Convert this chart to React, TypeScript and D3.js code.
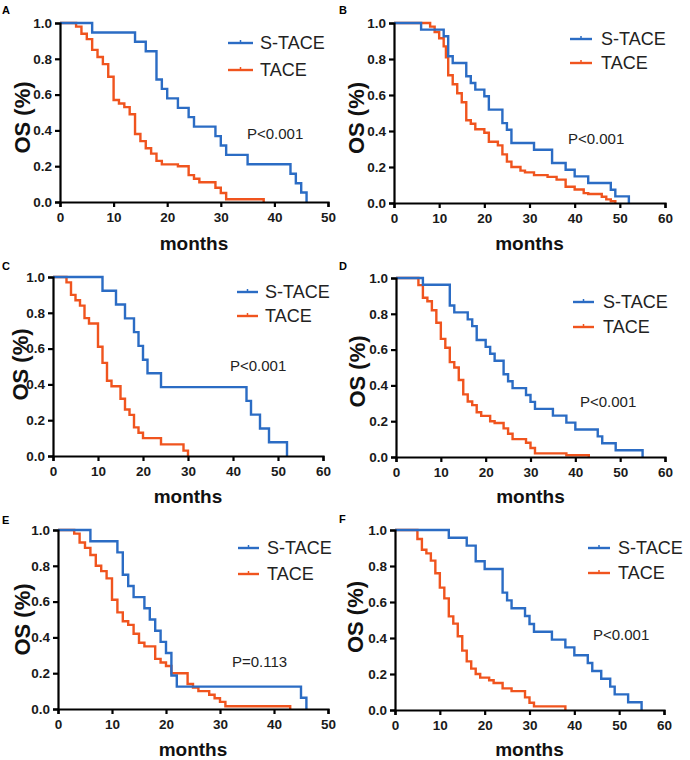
import React, { useEffect, useRef } from "react";
import * as d3 from "d3";

// ---- Data: Kaplan-Meier steps [months, survival] ----
const A_STACE = [[0,1],[6,0.947],[14,0.895],[16,0.842],[18,0.684],[19,0.632],[20,0.579],[22,0.526],[24,0.474],[25,0.421],[29,0.368],[30,0.316],[31,0.263],[35,0.211],[43,0.158],[44,0.105],[45,0.053],[46,0]];
const A_TACE = [[0,1],[3,0.98],[4,0.94],[5,0.91],[6,0.85],[7,0.81],[8,0.77],[9,0.70],[10,0.57],[11,0.55],[12,0.53],[13,0.49],[14,0.38],[15,0.34],[16,0.30],[17,0.27],[18,0.23],[19,0.21],[22,0.20],[24,0.15],[25,0.13],[26,0.11],[29,0.08],[30,0.05],[31,0.015],[38,0]];
const B_STACE = [[0,1],[6,0.963],[11,0.926],[12,0.815],[13,0.778],[16,0.704],[17,0.667],[18,0.630],[20,0.593],[21,0.519],[24,0.444],[25,0.407],[26,0.333],[31,0.296],[35,0.222],[38,0.185],[40,0.148],[43,0.111],[48,0.074],[49,0.037],[52,0]];
const B_TACE = [[0,1],[8,0.98],[9,0.95],[10,0.915],[11,0.87],[11.5,0.81],[12,0.71],[13,0.66],[14,0.61],[15,0.56],[16,0.46],[17,0.44],[18,0.41],[20,0.39],[21,0.34],[23,0.32],[24,0.27],[25,0.23],[26,0.20],[28,0.18],[29,0.17],[31,0.155],[34,0.145],[36,0.13],[38,0.09],[40,0.075],[42,0.055],[43,0.05],[46,0.035],[47,0.02],[48,0.01],[49,0]];
const C_STACE = [[0,1],[11,0.923],[14,0.846],[16,0.769],[18,0.692],[19,0.615],[20,0.538],[21,0.462],[24,0.385],[43,0.308],[44,0.231],[46,0.154],[48,0.077],[52,0]];
const C_TACE = [[0,1],[3,0.97],[4,0.90],[5,0.87],[6,0.84],[7,0.77],[8,0.74],[10,0.61],[11,0.52],[12,0.42],[13,0.39],[15,0.32],[16,0.26],[17,0.23],[18,0.16],[19,0.13],[20,0.10],[24,0.065],[29,0.03],[30,0]];
const D_STACE = [[0,1],[6,0.962],[12,0.846],[13,0.808],[16,0.769],[17,0.731],[18,0.654],[20,0.615],[21,0.577],[22,0.538],[24,0.462],[25,0.423],[26,0.385],[29,0.346],[30,0.308],[31,0.269],[35,0.231],[38,0.192],[40,0.154],[45,0.115],[46,0.077],[49,0.038],[55,0]];
const D_TACE = [[0,1],[5,0.96],[6,0.89],[7,0.87],[8,0.82],[9,0.75],[10,0.66],[11,0.61],[12,0.53],[13,0.50],[14,0.43],[15,0.35],[16,0.31],[17,0.29],[18,0.25],[19,0.23],[21,0.20],[22,0.19],[24,0.16],[25,0.13],[26,0.10],[29,0.08],[30,0.05],[31,0.02],[38,0.01],[43,0]];
const E_STACE = [[0,1],[6,0.9375],[11,0.875],[12,0.75],[13,0.6875],[14,0.625],[16,0.5625],[17,0.5],[18,0.4375],[19,0.375],[20,0.3125],[21,0.1875],[22,0.125],[45,0.0625],[46,0]];
const E_TACE = [[0,1],[3,0.98],[4,0.93],[5,0.90],[6,0.86],[7,0.80],[8,0.77],[9,0.73],[10,0.61],[11,0.54],[12,0.49],[13,0.47],[14,0.42],[15,0.37],[16,0.35],[18,0.28],[19,0.26],[20,0.24],[21,0.20],[24,0.14],[25,0.12],[26,0.10],[28,0.08],[29,0.06],[30,0.04],[31,0.015],[43,0]];
const F_STACE = [[0,1],[12,0.957],[16,0.913],[18,0.826],[20,0.783],[24,0.652],[25,0.609],[26,0.565],[29,0.522],[30,0.478],[31,0.435],[35,0.391],[38,0.348],[40,0.304],[43,0.261],[44,0.217],[46,0.174],[48,0.130],[49,0.087],[52,0.043],[55,0]];
const F_TACE = [[0,1],[5,0.95],[6,0.89],[7,0.87],[8,0.83],[9,0.76],[10,0.68],[11,0.62],[12,0.52],[13,0.48],[14,0.41],[15,0.33],[16,0.27],[17,0.23],[18,0.20],[19,0.18],[21,0.165],[22,0.15],[24,0.12],[26,0.105],[29,0.07],[30,0.04],[31,0.02],[38,0]];

const PANEL_LABELS = ["A", "B", "C", "D", "E", "F"];
const P_TEXTS = ["P<0.001", "P<0.001", "P<0.001", "P<0.001", "P=0.113", "P<0.001"];
const X_MAXES = [50, 60, 60, 60, 50, 60];
const SERIES_NAMES = ["S-TACE", "TACE"];
const Y_TICKS = [0, 0.2, 0.4, 0.6, 0.8, 1.0];
const X_LABEL = "months";
const Y_LABEL = "OS (%)";

const BLUE = "#2b6cc4";
const ORANGE = "#f0541e";
const FONT = "'Liberation Sans', Arial, Helvetica, sans-serif";

// layout per panel (positions only)
const LAYOUT = [
  { x0: 60, x1: 328, yTop: 23, yBot: 202, letter: [2, 14], leg: [228, 253, 43, 70, 260], p: [247, 133], os: [22, 5], mY: 250 },
  { x0: 394, x1: 665, yTop: 23, yBot: 203, letter: [339, 14], leg: [570, 592, 39, 63, 601], p: [568, 138], os: [356, 5], mY: 250 },
  { x0: 53, x1: 323, yTop: 277, yBot: 456, letter: [2, 270], leg: [237, 258, 292, 316, 265], p: [230, 365], os: [20, -2], mY: 503 },
  { x0: 396, x1: 665, yTop: 278, yBot: 457, letter: [339, 270], leg: [573, 594, 302, 327, 603], p: [580, 401], os: [357, 4], mY: 503 },
  { x0: 58, x1: 328, yTop: 530, yBot: 709, letter: [2, 524], leg: [238, 259, 548, 574, 267], p: [232, 661], os: [22, 0], mY: 756 },
  { x0: 395, x1: 664, yTop: 530, yBot: 710, letter: [339, 523], leg: [588, 610, 548, 573, 618], p: [593, 634], os: [355, -3], mY: 756 },
];

const SERIES = [
  [A_STACE, A_TACE],
  [B_STACE, B_TACE],
  [C_STACE, C_TACE],
  [D_STACE, D_TACE],
  [E_STACE, E_TACE],
  [F_STACE, F_TACE],
];

export default function App() {
  const ref = useRef<SVGSVGElement>(null);

  useEffect(() => {
    const svg = d3.select(ref.current);
    svg.selectAll("*").remove();

    LAYOUT.forEach((L, i) => {
      const g = svg.append("g");
      const x = d3.scaleLinear().domain([0, X_MAXES[i]]).range([L.x0, L.x1]);
      const y = d3.scaleLinear().domain([0, 1]).range([L.yBot, L.yTop]);

      const line = d3
        .line<number[]>()
        .x((d) => x(d[0]))
        .y((d) => y(d[1]))
        .curve(d3.curveStepAfter);

      const [st, ta] = SERIES[i];
      g.append("path").attr("d", line(ta as any)).attr("fill", "none").attr("stroke", ORANGE).attr("stroke-width", 2.4);
      g.append("path").attr("d", line(st as any)).attr("fill", "none").attr("stroke", BLUE).attr("stroke-width", 2.4);

      const xAxis = d3.axisBottom(x).tickValues(d3.range(0, X_MAXES[i] + 1, 10)).tickSize(5).tickPadding(5).tickFormat(d3.format("d") as any);
      const yAxis = d3.axisLeft(y).tickValues(Y_TICKS).tickSize(5).tickPadding(3).tickFormat(d3.format(".1f") as any);

      const gx = g.append("g").attr("transform", `translate(0,${L.yBot})`).call(xAxis);
      const gy = g.append("g").attr("transform", `translate(${L.x0},0)`).call(yAxis);
      [gx, gy].forEach((ax) => {
        ax.select(".domain").attr("stroke", "#000").attr("stroke-width", 2.2);
        ax.selectAll(".tick line").attr("stroke", "#000").attr("stroke-width", 2.2);
        ax.selectAll(".tick text")
          .attr("fill", "#1a1a1a")
          .style("font-family", FONT)
          .style("font-weight", "bold")
          .style("font-size", "13.5px");
      });

      g.append("text")
        .attr("x", (L.x0 + L.x1) / 2)
        .attr("y", L.mY)
        .attr("text-anchor", "middle")
        .style("font-family", FONT)
        .style("font-weight", "bold")
        .style("font-size", "19px")
        .attr("fill", "#111")
        .text(X_LABEL);

      g.append("text")
        .attr("transform", `translate(${L.os[0]},${(L.yTop + L.yBot) / 2 + L.os[1]}) rotate(-90)`)
        .attr("text-anchor", "middle")
        .attr("dominant-baseline", "central")
        .style("font-family", FONT)
        .style("font-weight", "bold")
        .style("font-size", "22px")
        .attr("fill", "#111")
        .text(Y_LABEL);

      g.append("text")
        .attr("x", L.letter[0])
        .attr("y", L.letter[1])
        .style("font-family", FONT)
        .style("font-weight", "bold")
        .style("font-size", "11px")
        .attr("fill", "#000")
        .text(PANEL_LABELS[i]);

      const [lx0, lx1, ly1, ly2, tx] = L.leg;
      [ly1, ly2].forEach((ly, k) => {
        const col = k === 0 ? BLUE : ORANGE;
        g.append("line").attr("x1", lx0).attr("x2", lx1).attr("y1", ly).attr("y2", ly).attr("stroke", col).attr("stroke-width", 2.4);
        g.append("line").attr("x1", (lx0 + lx1) / 2).attr("x2", (lx0 + lx1) / 2).attr("y1", ly).attr("y2", ly - 3).attr("stroke", col).attr("stroke-width", 1.5);
        g.append("text")
          .attr("x", tx)
          .attr("y", ly)
          .attr("dominant-baseline", "central")
          .style("font-family", FONT)
          .style("font-size", "18px")
          .attr("fill", "#222")
          .text(SERIES_NAMES[k]);
      });

      g.append("text")
        .attr("x", L.p[0])
        .attr("y", L.p[1])
        .attr("dominant-baseline", "central")
        .style("font-family", FONT)
        .style("font-size", "15px")
        .attr("fill", "#222")
        .text(P_TEXTS[i]);
    });
  }, []);

  return (
    <svg
      ref={ref}
      width={690}
      height={760}
      style={{ position: "absolute", left: 0, top: 0, background: "#fff" }}
    />
  );
}
